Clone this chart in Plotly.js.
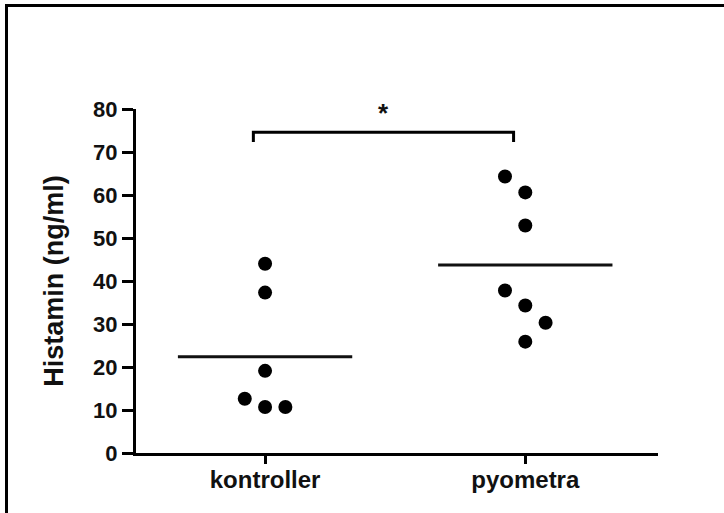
<!DOCTYPE html>
<html>
<head>
<meta charset="utf-8">
<script src="https://cdn.plot.ly/plotly-3.0.1.min.js"></script>
<style>
  html, body { margin: 0; padding: 0; background: #fff; }
  #wrap { position: relative; width: 724px; height: 513px; }
  #chart { width: 724px; height: 513px; }
  #frame { position: absolute; left: 5px; top: 4px; right: -10px; bottom: -10px;
           border-left: 3px solid #000; border-top: 3px solid #000; pointer-events: none; }
</style>
</head>
<body>
<div id="wrap"><div id="chart"></div><div id="frame"></div></div>
<script>
// ---- data ----
const categories = ["kontroller", "pyometra"];
const kontrollerValues = [44.0, 37.3, 19.1, 12.6, 10.7, 10.7];
const kontrollerSlots  = [0, 0, 0, -1, 0, 1];
const pyometraValues   = [64.3, 60.6, 52.9, 37.8, 34.3, 30.3, 25.9];
const pyometraSlots    = [-1, 0, 0, -1, 0, 1, 0];
const yTicks = [0, 10, 20, 30, 40, 50, 60, 70, 80];
const significanceLabel = "*";
const yTitle = "Histamin (ng/ml)";

// ---- styling constants ----
const slotWidth = 0.078;
const meanHalfWidth = 0.335;
const groups = [
  { vals: kontrollerValues, slots: kontrollerSlots, idx: 0 },
  { vals: pyometraValues,   slots: pyometraSlots,   idx: 1 }
];

const traces = [];
groups.forEach(g => {
  traces.push({
    type: "scatter", mode: "markers",
    x: g.slots.map(s => g.idx + s * slotWidth),
    y: g.vals,
    marker: { color: "#000", size: 14 },
    hoverinfo: "y", showlegend: false
  });
  const mean = g.vals.reduce((a, b) => a + b, 0) / g.vals.length;
  traces.push({
    type: "scatter", mode: "lines",
    x: [g.idx - meanHalfWidth, g.idx + meanHalfWidth],
    y: [mean, mean],
    line: { color: "#111", width: 3 },
    hoverinfo: "skip", showlegend: false
  });
});

// significance bracket
const bracketTop = 74.6, bracketFoot = 72.3;
const bracketInset = 0.045;
traces.push({
  type: "scatter", mode: "lines",
  x: [0 - bracketInset, 0 - bracketInset, 1 - bracketInset, 1 - bracketInset],
  y: [bracketFoot, bracketTop, bracketTop, bracketFoot],
  line: { color: "#000", width: 3 },
  hoverinfo: "skip", showlegend: false, cliponaxis: false
});

const layout = {
  width: 724, height: 513,
  margin: { l: 136, r: 66, t: 109, b: 60 },
  paper_bgcolor: "#fff", plot_bgcolor: "#fff",
  font: { family: "Liberation Sans, Arial, sans-serif", color: "#000" },
  xaxis: {
    range: [-0.496, 1.51],
    tickvals: [0, 1], ticktext: categories,
    showgrid: false, zeroline: false,
    showline: true, linecolor: "#000", linewidth: 3,
    ticks: "outside", ticklen: 8, tickwidth: 3, tickcolor: "#000",
    ticklabelstandoff: -5,
    tickfont: { size: 24, weight: "bold", color: "#111" },
    fixedrange: true
  },
  yaxis: {
    range: [0, 80],
    tickvals: yTicks,
    showgrid: false, zeroline: false,
    showline: true, linecolor: "#000", linewidth: 3,
    ticks: "outside", ticklen: 11, tickwidth: 3, tickcolor: "#000",
    tickfont: { size: 22, weight: "bold", color: "#111" },
    title: { text: yTitle, font: { size: 27, weight: "bold", color: "#111" }, standoff: 22 },
    fixedrange: true
  },
  annotations: [{
    x: 0.5 - bracketInset, y: bracketTop, xref: "x", yref: "y",
    text: significanceLabel, showarrow: false,
    yanchor: "bottom", yshift: 2,
    font: { size: 26, weight: "bold", color: "#111" }
  }]
};

Plotly.newPlot("chart", traces, layout, { displayModeBar: false, staticPlot: true });
</script>
</body>
</html>
